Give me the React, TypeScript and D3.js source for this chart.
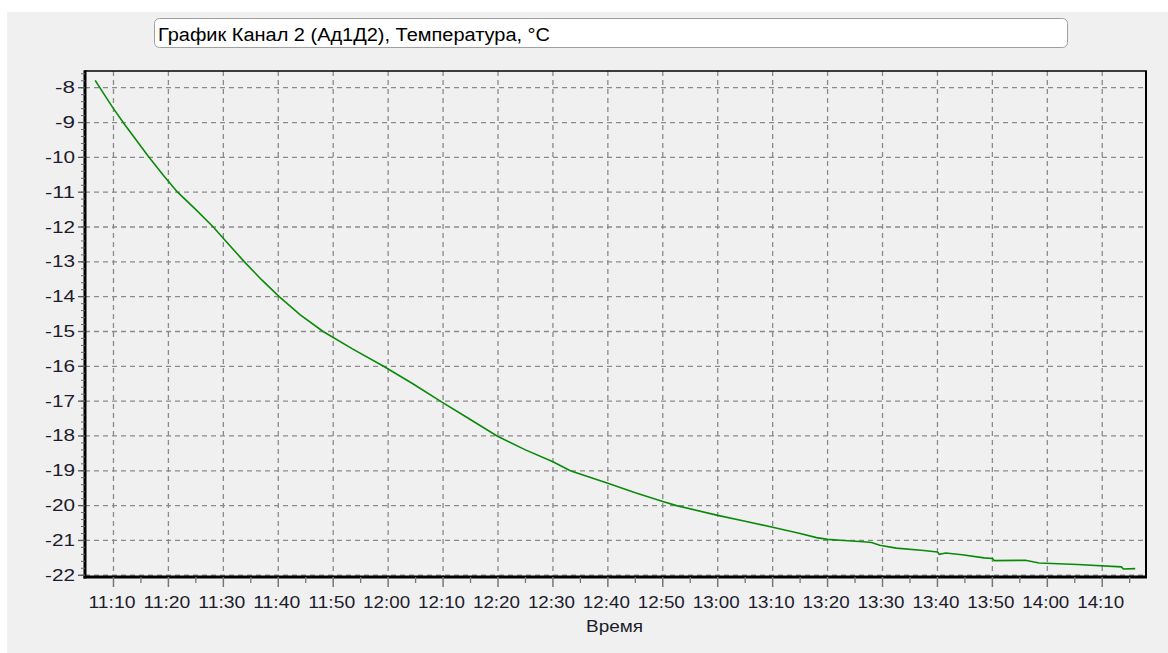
import React from "react";
import * as d3 from "d3";

const TITLE = "График Канал 2 (Ад1Д2), Температура, °С";
const X_LABEL = "Время";

const times: string[] = [
  "11:06:40", "11:08:20", "11:10:00", "11:12:00", "11:14:00", "11:16:20", "11:19:00", "11:21:40",
  "11:25:00", "11:28:10", "11:31:00", "11:33:50", "11:37:00", "11:40:10", "11:44:00", "11:48:10",
  "11:53:30", "11:59:10", "12:04:30", "12:09:30", "12:14:40", "12:19:50", "12:25:00", "12:30:00",
  "12:33:10", "12:40:00", "12:45:00", "12:50:00", "12:52:30", "13:00:00", "13:05:00", "13:10:00",
  "13:15:00", "13:18:00", "13:20:00", "13:23:00", "13:26:30", "13:28:00", "13:29:30", "13:32:30",
  "13:37:30", "13:40:00", "13:40:20", "13:41:30", "13:44:30", "13:48:30", "13:50:00", "13:50:20",
  "13:56:00", "13:58:30", "14:05:30", "14:13:30", "14:13:50", "14:16:00",
];
const temps: number[] = [
  -7.79, -8.2, -8.6, -9.05, -9.47, -9.97, -10.5, -11.0,
  -11.5, -12.0, -12.5, -13.0, -13.52, -14.0, -14.52, -15.0,
  -15.5, -16.0, -16.5, -17.0, -17.5, -18.0, -18.4, -18.74,
  -19.0, -19.36, -19.63, -19.88, -20.0, -20.28, -20.45, -20.62,
  -20.8, -20.92, -20.97, -21.0, -21.04, -21.06, -21.14, -21.22,
  -21.29, -21.33, -21.4, -21.36, -21.41, -21.5, -21.52, -21.58,
  -21.57, -21.65, -21.69, -21.76, -21.82, -21.81,
];
const yTicks: number[] = [-8, -9, -10, -11, -12, -13, -14, -15, -16, -17, -18, -19, -20, -21, -22];
const xTickLabels: string[] = [
  "11:10", "11:20", "11:30", "11:40", "11:50", "12:00", "12:10", "12:20", "12:30", "12:40",
  "12:50", "13:00", "13:10", "13:20", "13:30", "13:40", "13:50", "14:00", "14:10",
];

const toDate = (s: string) => {
  const [h, m, sec] = s.split(":").map(Number);
  return new Date(2000, 0, 1, h, m, sec || 0);
};

export default function App() {
  const W = 1168, H = 653;
  const left = 85, right = 1146, top = 71, bottom = 577;
  const x = d3.scaleTime().domain([toDate("11:04:49"), toDate("14:17:58")]).range([left, right]);
  const y = d3.scaleLinear().domain([-22.05, -7.52]).range([bottom, top]);
  const data = times.map((t, i) => ({ t: toDate(t), v: temps[i] }));
  const line = d3.line<{ t: Date; v: number }>().x(d => x(d.t)).y(d => y(d.v));

  const minorY: number[] = [];
  for (let v = -22; v <= -7.6; v += 0.2) minorY.push(Math.round(v * 10) / 10);
  const minorX: Date[] = [];
  for (let i = 0; i < xTickLabels.length; i++) {
    const d = toDate(xTickLabels[i]);
    minorX.push(new Date(d.getTime() + 5 * 60000));
  }
  const grid = "#8a8a8a";
  const font = "Liberation Sans, Arial, sans-serif";

  return (
    <svg width={W} height={H} style={{ position: "absolute", left: 0, top: 0, background: "#fff" }}>
      <rect x={7} y={12} width={W - 7} height={H - 12} fill="#f0f0f0" />
      <rect x={154.5} y={18.5} width={913} height={29} rx={5} fill="#fff" stroke="#a0a0a0" />
      <text x={158} y={41} fontFamily="Liberation Sans Narrow, Arial Narrow, Liberation Sans, sans-serif" fontSize={18} fill="#000" textLength={392} lengthAdjust="spacingAndGlyphs">{TITLE}</text>

      {/* grid */}
      {yTicks.map(v => (
        <line key={"gy" + v} x1={left} x2={right} y1={y(v)} y2={y(v)} stroke={grid} strokeWidth={1.3} strokeDasharray="5,4" />
      ))}
      {xTickLabels.map(s => (
        <line key={"gx" + s} x1={x(toDate(s))} x2={x(toDate(s))} y1={top} y2={bottom} stroke={grid} strokeWidth={1.3} strokeDasharray="5,4" />
      ))}

      {/* series */}
      <path d={line(data) || ""} fill="none" stroke="#0a8a0a" strokeWidth={1.6} />

      {/* frame */}
      <line x1={left} x2={right + 1} y1={top} y2={top} stroke="#000" strokeWidth={1.6} />
      <line x1={right} x2={right} y1={top} y2={bottom + 1} stroke="#000" strokeWidth={2} />
      <line x1={left} x2={left} y1={top - 0.8} y2={bottom + 1.5} stroke="#000" strokeWidth={3} />
      <line x1={left - 1.5} x2={right + 1} y1={bottom} y2={bottom} stroke="#000" strokeWidth={3} />

      {/* y ticks */}
      {minorY.map(v => (
        <line key={"my" + v} x1={left - 4} x2={left} y1={y(v)} y2={y(v)} stroke="#666" strokeWidth={1} />
      ))}
      {yTicks.map(v => (
        <g key={"ty" + v}>
          <line x1={left - 7} x2={left} y1={y(v)} y2={y(v)} stroke="#555" strokeWidth={1.3} />
          <text x={75} y={y(v) + 5.5} textAnchor="end" fontFamily={font} fontSize={16} fill="#1c1c2c"
            textLength={String(v).length * 10} lengthAdjust="spacingAndGlyphs">{v}</text>
        </g>
      ))}

      {/* x ticks */}
      {minorX.map((d, i) => (
        x(d) < right ? <line key={"mx" + i} x1={x(d)} x2={x(d)} y1={bottom} y2={bottom + 6} stroke="#777" strokeWidth={1.3} /> : null
      ))}
      {xTickLabels.map(s => {
        const px = x(toDate(s));
        return (
          <g key={"tx" + s}>
            <line x1={px} x2={px} y1={bottom} y2={bottom + 10} stroke="#777" strokeWidth={1.5} />
            <text x={px - 1.5} y={608} textAnchor="middle" fontFamily={font} fontSize={16} fill="#1c1c2c"
              textLength={47} lengthAdjust="spacingAndGlyphs">{s}</text>
          </g>
        );
      })}
      <text x={614.5} y={632} textAnchor="middle" fontFamily={font} fontSize={16} fill="#1c1c2c"
        textLength={57} lengthAdjust="spacingAndGlyphs">{X_LABEL}</text>
    </svg>
  );
}
